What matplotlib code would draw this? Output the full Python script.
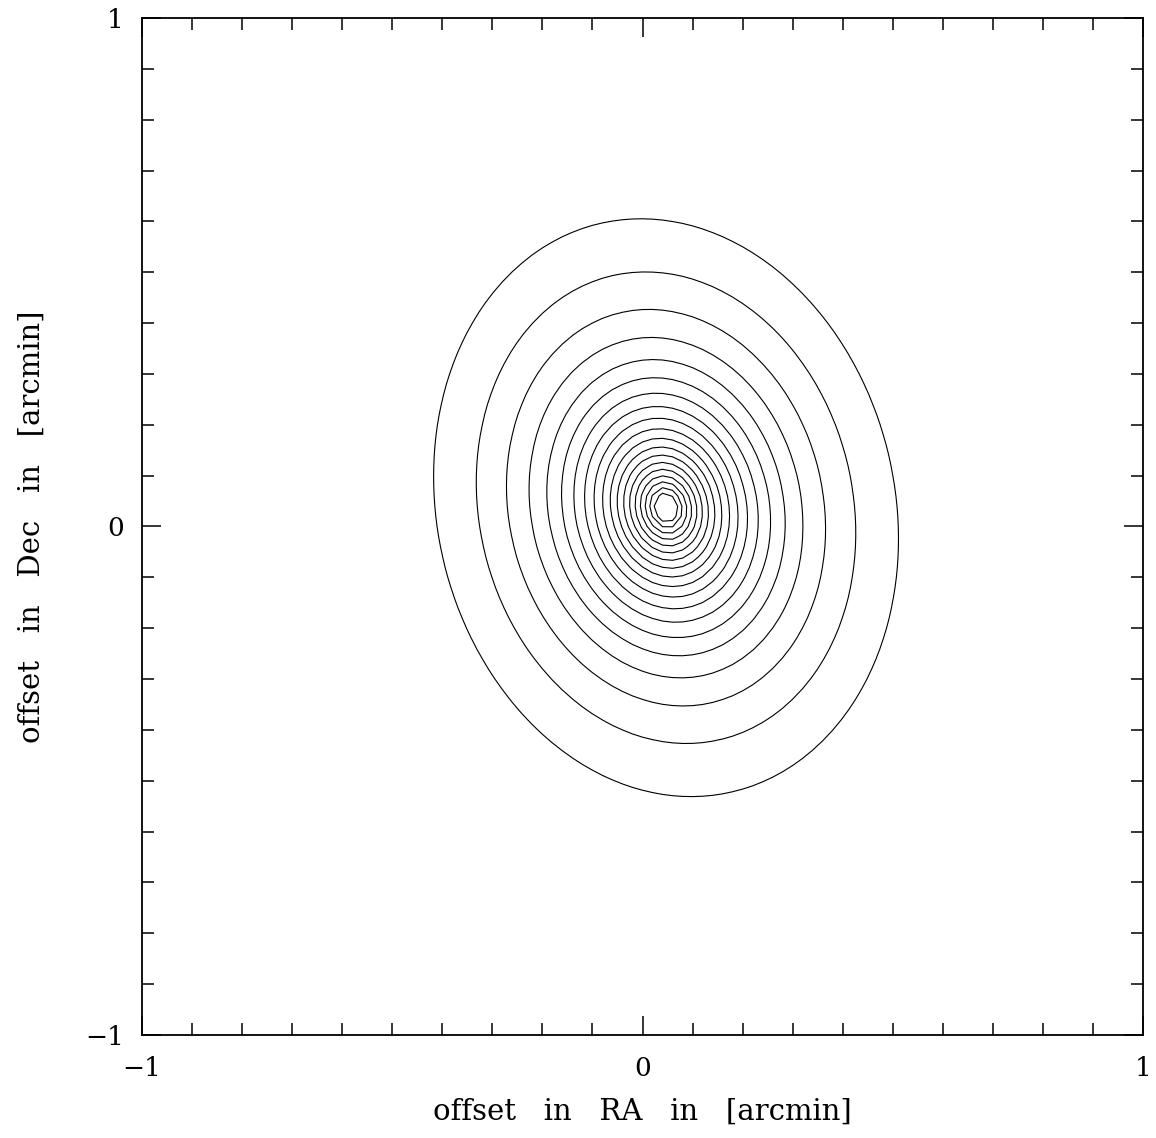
import matplotlib
matplotlib.use("Agg")
import matplotlib.pyplot as plt
import numpy as np
from matplotlib.ticker import MultipleLocator

# profile parameters (data units = arcmin)
CENTER = [0.047, 0.037]        # RA, Dec offset of the peak
PEAK = 1.1
SCALE_LENGTH = 0.158           # exponential scale along the minor axis
TRUNCATION = 0.5576            # outer steepening radius
AXIS_RATIO = 0.795             # minor / major
MAJOR_AXIS_ANGLE = 104.0       # degrees from +RA, counter-clockwise
LEVELS = [0.05, 0.10, 0.15, 0.20, 0.25, 0.30, 0.35, 0.40, 0.45, 0.50,
          0.55, 0.60, 0.65, 0.70, 0.75, 0.80, 0.85, 0.90, 0.95]
MAP_PIXELS = 101               # the map is sampled on a coarse grid

AXIS_LIMITS = [-1, 1]
X_LABEL = "offset   in   RA   in   [arcmin]"
Y_LABEL = "offset   in   Dec   in   [arcmin]"

plt.rcParams["font.family"] = ["DejaVu Serif"]

grid = np.linspace(AXIS_LIMITS[0], AXIS_LIMITS[1], MAP_PIXELS)
xx, yy = np.meshgrid(grid, grid)
pa = np.deg2rad(MAJOR_AXIS_ANGLE)
dx = xx - CENTER[0]
dy = yy - CENTER[1]
u = dx * np.cos(pa) + dy * np.sin(pa)
v = -dx * np.sin(pa) + dy * np.cos(pa)
rho = np.sqrt((u * AXIS_RATIO) ** 2 + v ** 2)
field = PEAK * np.exp(-rho / SCALE_LENGTH - (rho / TRUNCATION) ** 8)

fig = plt.figure(figsize=(11.56, 11.38), dpi=100)
ax = fig.add_axes([0.1228, 0.0905, 0.8660, 0.8937])
ax.contour(xx, yy, field, levels=LEVELS, colors="black", linewidths=0.8)

ax.set_xlim(AXIS_LIMITS)
ax.set_ylim(AXIS_LIMITS)
ax.xaxis.set_major_locator(MultipleLocator(1))
ax.yaxis.set_major_locator(MultipleLocator(1))
ax.xaxis.set_minor_locator(MultipleLocator(0.1))
ax.yaxis.set_minor_locator(MultipleLocator(0.1))
ax.tick_params(which="both", direction="in", top=True, right=True, width=1.1)
ax.tick_params(which="major", length=14, labelsize=19, pad=13)
ax.tick_params(which="minor", length=8.5)
ax.tick_params(axis="x", which="major", pad=15)
for spine in ax.spines.values():
    spine.set_linewidth(1.3)

ax.set_xlabel(X_LABEL, fontsize=21, labelpad=12)
ax.set_ylabel(Y_LABEL, fontsize=21, labelpad=28)

fig.savefig("out.png", dpi=100)
